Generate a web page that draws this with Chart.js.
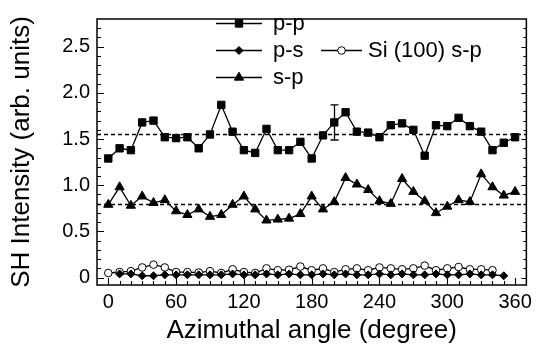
<!DOCTYPE html>
<html>
<head>
<meta charset="utf-8">
<script src="https://cdn.jsdelivr.net/npm/chart.js@4.4.1/dist/chart.umd.min.js"></script>
<style>
  html, body { margin: 0; padding: 0; background: #fff; }
  #wrap { width: 537px; height: 352px; }
</style>
</head>
<body>
<div id="wrap"><canvas id="c" width="537" height="352"></canvas></div>
<script>
// Azimuthal angles (degrees)
const anglesFull = [0,10,20,30,40,50,60,70,80,90,100,110,120,130,140,150,160,170,180,
                    190,200,210,220,230,240,250,260,270,280,290,300,310,320,330,340,350,360];
const anglesSi   = [0,10,20,30,40,50,60,70,80,90,100,110,120,130,140,150,160,170,180,
                    190,200,210,220,230,240,250,260,270,280,290,300,310,320,330,340];
const anglesPS   = [10,20,30,40,50,60,70,80,90,100,110,120,130,140,150,160,170,180,
                    190,200,210,220,230,240,250,260,270,280,290,300,310,320,330,340,350];

// SH intensity (arb. units)
const ppValues = [1.29,1.40,1.38,1.68,1.70,1.52,1.51,1.52,1.40,1.55,1.87,1.58,1.38,1.35,1.61,1.38,1.38,1.47,1.29,
                  1.54,1.68,1.79,1.58,1.57,1.52,1.65,1.67,1.60,1.32,1.65,1.64,1.73,1.64,1.58,1.38,1.46,1.52];
const spValues = [0.79,0.98,0.78,0.88,0.81,0.84,0.72,0.68,0.74,0.66,0.68,0.79,0.88,0.74,0.62,0.63,0.64,0.69,0.88,
                  0.74,0.82,1.08,1.01,0.95,0.83,0.80,1.07,0.93,0.83,0.70,0.77,0.84,0.82,1.12,0.98,0.89,0.93];
const psValues = [0.04,0.04,0.02,0.02,0.03,0.03,0.03,0.03,0.03,0.03,0.04,0.03,0.03,0.04,0.03,0.04,0.03,0.03,
                  0.04,0.03,0.04,0.03,0.03,0.04,0.03,0.04,0.03,0.03,0.04,0.03,0.03,0.04,0.03,0.03,0.02];
const siValues = [0.05,0.06,0.07,0.11,0.14,0.11,0.06,0.06,0.055,0.07,0.05,0.09,0.06,0.05,0.10,0.08,0.085,0.12,
                  0.08,0.10,0.06,0.09,0.10,0.08,0.11,0.10,0.09,0.10,0.13,0.08,0.10,0.115,0.09,0.09,0.08];

// Mean levels (dashed guides) and the representative error bar on p-p
const meanLevels = [1.55, 0.80];
const errAngle = 200;
const errCenter = 1.68;
const errHalf = 0.19;

// Axis ticks
const xTickValues = [0, 60, 120, 180, 240, 300, 360];
const xTickLabels = ['0', '60', '120', '180', '240', '300', '360'];
const yTickValues = [0, 0.5, 1.0, 1.5, 2.0, 2.5];
const yTickLabels = ['0', '0.5', '1.0', '1.5', '2.0', '2.5'];

const seriesNames = ['p-p', 'p-s', 's-p', 'Si (100) s-p'];

const FONT = '"Liberation Sans", Arial, Helvetica, sans-serif';
const zip = (xs, ys) => xs.map((x, i) => ({ x, y: ys[i] }));

const lineBase = {
  borderColor: '#000',
  borderWidth: 1.3,
  tension: 0,
  pointBorderColor: '#000',
  pointBorderWidth: 1,
  pointHoverRadius: 0
};

const markerStyles = {
  'p-p': { pointStyle: 'rect', radius: 5.2, fill: '#000' },
  'p-s': { pointStyle: 'rectRot', radius: 4.0, fill: '#000' },
  's-p': { pointStyle: 'triangle', radius: 5.3, fill: '#000' },
  'Si (100) s-p': { pointStyle: 'circle', radius: 3.8, fill: '#fff' }
};

function ds(name, xs, ys) {
  const m = markerStyles[name];
  return Object.assign({}, lineBase, {
    label: name,
    data: zip(xs, ys),
    pointStyle: m.pointStyle,
    pointRadius: m.radius,
    pointBackgroundColor: m.fill
  });
}

// Frame, inward ticks, dashed mean levels, error bar and legend
const decor = {
  id: 'decor',
  beforeDatasetsDraw(chart) {
    const { ctx, chartArea: a, scales: { y } } = chart;
    ctx.save();
    ctx.strokeStyle = '#000';
    ctx.lineWidth = 1.3;
    ctx.setLineDash([4, 3]);
    meanLevels.forEach(v => {
      const py = Math.round(y.getPixelForValue(v)) + 0.5;
      ctx.beginPath();
      ctx.moveTo(a.left, py);
      ctx.lineTo(a.right, py);
      ctx.stroke();
    });
    ctx.restore();
  },
  afterDatasetsDraw(chart) {
    const { ctx, scales: { x, y } } = chart;
    const px = Math.round(x.getPixelForValue(errAngle)) + 0.5;
    const yt = y.getPixelForValue(errCenter + errHalf);
    const yb = y.getPixelForValue(errCenter - errHalf);
    ctx.save();
    ctx.strokeStyle = '#000';
    ctx.lineWidth = 1.3;
    ctx.beginPath();
    ctx.moveTo(px, yt); ctx.lineTo(px, yb);
    ctx.moveTo(px - 4, yt); ctx.lineTo(px + 4, yt);
    ctx.moveTo(px - 4, yb); ctx.lineTo(px + 4, yb);
    ctx.stroke();
    ctx.restore();
  },
  afterDraw(chart) {
    const { ctx, chartArea: a, scales: { x, y } } = chart;
    ctx.save();
    ctx.strokeStyle = '#000';
    ctx.lineWidth = 1.5;
    ctx.strokeRect(a.left, a.top, a.right - a.left, a.bottom - a.top);

    ctx.lineWidth = 1.1;
    ctx.beginPath();
    for (let d = 0; d <= 360; d += 10) {
      const px = Math.round(x.getPixelForValue(d)) + 0.5;
      const len = d % 60 === 0 ? 7 : 4;
      ctx.moveTo(px, a.bottom); ctx.lineTo(px, a.bottom - len);
    }
    for (let k = 0; k <= 27; k++) {
      const v = k / 10;
      const py = Math.round(y.getPixelForValue(v)) + 0.5;
      const len = k % 5 === 0 ? 7 : 4;
      ctx.moveTo(a.left, py); ctx.lineTo(a.left + len, py);
      ctx.moveTo(a.right, py); ctx.lineTo(a.right - (k % 5 === 0 ? 5 : 3), py);
    }
    ctx.stroke();

    // Legend
    const rows = [
      { name: 'p-p', x1: 216, x2: 262, tx: 273, y: 23 },
      { name: 'p-s', x1: 216, x2: 262, tx: 273, y: 50 },
      { name: 'Si (100) s-p', x1: 321, x2: 362, tx: 368, y: 50 },
      { name: 's-p', x1: 216, x2: 262, tx: 273, y: 77 }
    ];
    ctx.font = '22px ' + FONT;
    ctx.textBaseline = 'middle';
    ctx.textAlign = 'left';
    ctx.fillStyle = '#000';
    rows.forEach(r => {
      const m = markerStyles[r.name];
      ctx.lineWidth = 1.3;
      ctx.beginPath();
      ctx.moveTo(r.x1, r.y + 0.5); ctx.lineTo(r.x2, r.y + 0.5);
      ctx.stroke();
      ctx.fillStyle = m.fill;
      ctx.lineWidth = 1;
      Chart.helpers.drawPoint(ctx, { pointStyle: m.pointStyle, radius: m.radius, rotation: 0, borderWidth: 1 },
        (r.x1 + r.x2) / 2, r.y + 0.5);
      ctx.fillStyle = '#000';
      ctx.fillText(r.name, r.tx, r.y + 1);
    });
    ctx.restore();
  }
};

new Chart(document.getElementById('c'), {
  type: 'line',
  data: {
    datasets: [
      ds(seriesNames[0], anglesFull, ppValues),
      ds(seriesNames[2], anglesFull, spValues),
      ds(seriesNames[1], anglesPS, psValues),
      ds(seriesNames[3], anglesSi, siValues)
    ]
  },
  options: {
    responsive: false,
    devicePixelRatio: 1,
    animation: false,
    events: [],
    layout: { padding: { left: 0, right: 9, top: 10, bottom: 0 } },
    plugins: { legend: { display: false }, tooltip: { enabled: false } },
    scales: {
      x: {
        type: 'linear',
        min: -10,
        max: 370,
        afterBuildTicks: s => { s.ticks = xTickValues.map(v => ({ value: v })); },
        afterFit: s => { s.height = 67; },
        grid: { display: false, drawTicks: false },
        border: { display: false },
        ticks: {
          padding: 5,
          color: '#000',
          font: { family: FONT, size: 20 },
          maxRotation: 0,
          callback: (v, i) => xTickLabels[i]
        },
        title: {
          display: true,
          text: 'Azimuthal angle (degree)',
          color: '#000',
          font: { family: FONT, size: 26 },
          padding: { top: 0, bottom: 6 }
        }
      },
      y: {
        type: 'linear',
        min: -0.08,
        max: 2.8,
        afterBuildTicks: s => { s.ticks = yTickValues.map(v => ({ value: v })); },
        afterFit: s => { s.width = 97; },
        grid: { display: false, drawTicks: false },
        border: { display: false },
        ticks: {
          padding: 7,
          color: '#000',
          font: { family: FONT, size: 20 },
          callback: (v, i) => yTickLabels[i]
        },
        title: {
          display: true,
          text: 'SH Intensity (arb. units)',
          color: '#000',
          font: { family: FONT, size: 26 },
          padding: { top: 6, bottom: 0 }
        }
      }
    }
  },
  plugins: [decor]
});
</script>
</body>
</html>
